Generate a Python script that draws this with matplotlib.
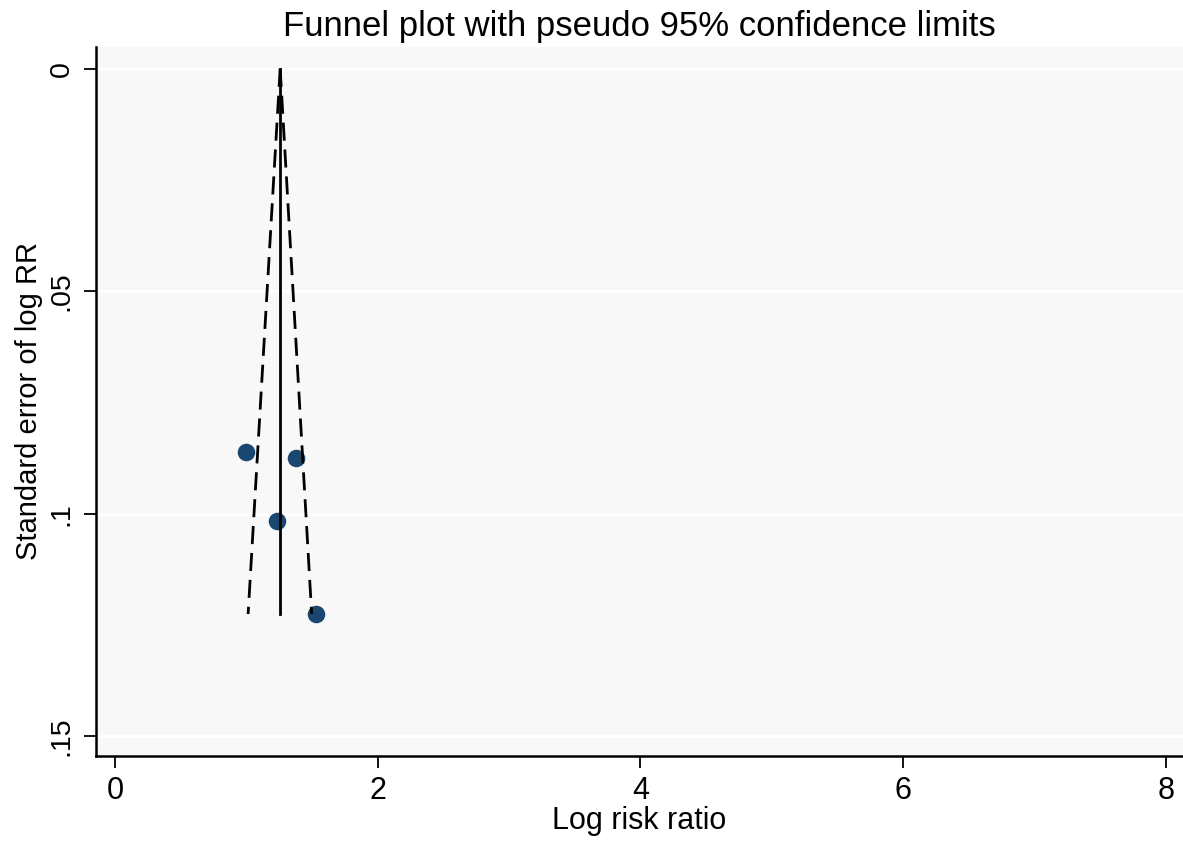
import matplotlib
matplotlib.use("Agg")
import matplotlib.pyplot as plt

plt.rcParams['font.family'] = ['Liberation Sans', 'DejaVu Sans']

# study estimates
log_rr = [0.998, 1.379, 1.234, 1.531]
se_log_rr = [0.0861, 0.0874, 0.1016, 0.1225]

# pooled estimate line and pseudo 95% limits (ends of each line)
se_ends = [0.0, 0.1225]
pooled = [1.257, 1.257]
lower_ci = [1.257, 1.013]
upper_ci = [1.257, 1.497]

x_ticks = [0, 2, 4, 6, 8]
y_ticks = [0, 0.05, 0.1, 0.15]
y_tick_labels = ['0', '.05', '.1', '.15']

fig = plt.figure(figsize=(11.83, 8.46), dpi=100)
ax = fig.add_axes([96 / 1183, 90 / 846, 1 - 96 / 1183, 709 / 846])
ax.set_facecolor('#f8f8f8')

ax.scatter(log_rr, se_log_rr, s=160, color='#1a476f', zorder=2, linewidths=0)
ax.plot(pooled, se_ends, color='black', linewidth=2, zorder=3)
ax.plot(lower_ci, se_ends, color='black', linewidth=2, dashes=(6.5, 3.2), zorder=3)
ax.plot(upper_ci, se_ends, color='black', linewidth=2, dashes=(6.5, 3.2), zorder=3)

ax.set_xlim(-0.145, 8.13)
ax.set_ylim(0.1544, -0.0049)

ax.set_xticks(x_ticks)
ax.set_yticks(y_ticks)
ax.set_yticklabels(y_tick_labels, rotation=90, va='center')
ax.tick_params(axis='both', length=8.5, width=1.3)
ax.tick_params(axis='x', labelsize=22, pad=6)
ax.tick_params(axis='y', labelsize=20.5, pad=7)

ax.grid(axis='y', color='white', linewidth=2)
ax.set_axisbelow(True)

for side in ['top', 'right']:
    ax.spines[side].set_visible(False)
for side in ['left', 'bottom']:
    ax.spines[side].set_linewidth(1.8)

ax.set_xlabel('Log risk ratio', fontsize=22, labelpad=0)
ax.set_ylabel('Standard error of log RR', fontsize=21, labelpad=4)
ax.set_title('Funnel plot with pseudo 95% confidence limits', fontsize=25, pad=8)

fig.savefig('out.png', dpi=100)
